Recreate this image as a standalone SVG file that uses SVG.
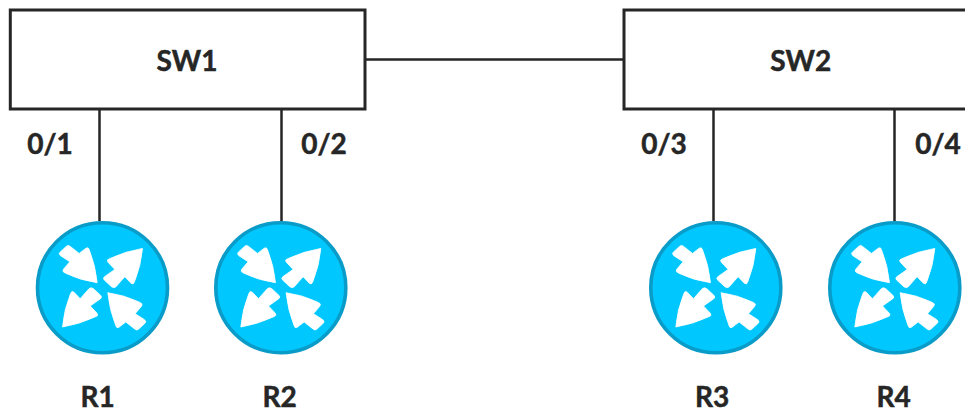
<svg xmlns="http://www.w3.org/2000/svg" width="965" height="413" viewBox="0 0 965 413">
<style>
.box{fill:#fff;stroke:#262626;stroke-width:3}
.wire{fill:none;stroke:#262626;stroke-width:2.500}
.lbl{font-family:"Lato","Liberation Sans",sans-serif;font-weight:700;font-size:28px;fill:#262626;stroke:#262626;stroke-width:.5;text-anchor:middle}
.disc{fill:#00c8ff;stroke:#0a9cc8;stroke-width:3.600}
.arr{fill:#fff;stroke:#fff;stroke-width:.8;stroke-linejoin:round}
</style>
<defs>
<path id="inward" class="arr" d="M-5.300-5Q-22-7.300-37-14.500Q-41-16-39-18.500L-32.700-26-42-32Q-44.500-34.300-42-36L-36-41.500Q-34.300-43-32.500-41.500L-23.300-34.300-16.500-39.500Q-14-41-13.300-38Q-7-22.200-5.300-5Z"/>
<path id="outward" class="arr" d="M40-39.300Q23-36.500 7-29Q3.500-28 5.500-25.500L12.300-18.300 2-11Q0-9.300 2-7.500L9-1Q11.500.8 13.500-1L22.300-11 28.500-4.500Q31-2.500 32-6Q38.500-22 40-39.300Z"/>
<g id="router">
<circle class="disc" r="65"/>
<use href="#inward"/>
<use href="#outward"/>
<use href="#inward" transform="rotate(180)"/>
<use href="#outward" transform="rotate(180)"/>
</g>
</defs>
<rect width="965" height="413" fill="#fff"/>
<g id="connectors">
<path class="wire" d="M365 59.500H624M99.500 109V221M281.500 109V221M713.500 109V221M894.500 109V221"/>
</g>
<g id="SW1"><rect class="box" x="10.300" y="10" width="354.700" height="99"/><text class="lbl" x="187" y="71">SW1</text></g>
<g id="SW2"><rect class="box" x="624" y="10" width="355" height="99"/><text class="lbl" x="800.700" y="71">SW2</text></g>
<g id="port01"><text class="lbl" x="50" y="154">0/1</text></g>
<g id="port02"><text class="lbl" x="324" y="154">0/2</text></g>
<g id="port03"><text class="lbl" x="664" y="154">0/3</text></g>
<g id="port04"><text class="lbl" x="938" y="154">0/4</text></g>
<g id="R1"><use href="#router" x="102.500" y="287.700"/><text class="lbl" x="97.500" y="407">R1</text></g>
<g id="R2"><use href="#router" x="280.800" y="287.700"/><text class="lbl" x="279.500" y="407">R2</text></g>
<g id="R3"><use href="#router" x="715.800" y="287.700"/><text class="lbl" x="712" y="407">R3</text></g>
<g id="R4"><use href="#router" x="894.800" y="287.700"/><text class="lbl" x="893.500" y="407">R4</text></g>
</svg>
